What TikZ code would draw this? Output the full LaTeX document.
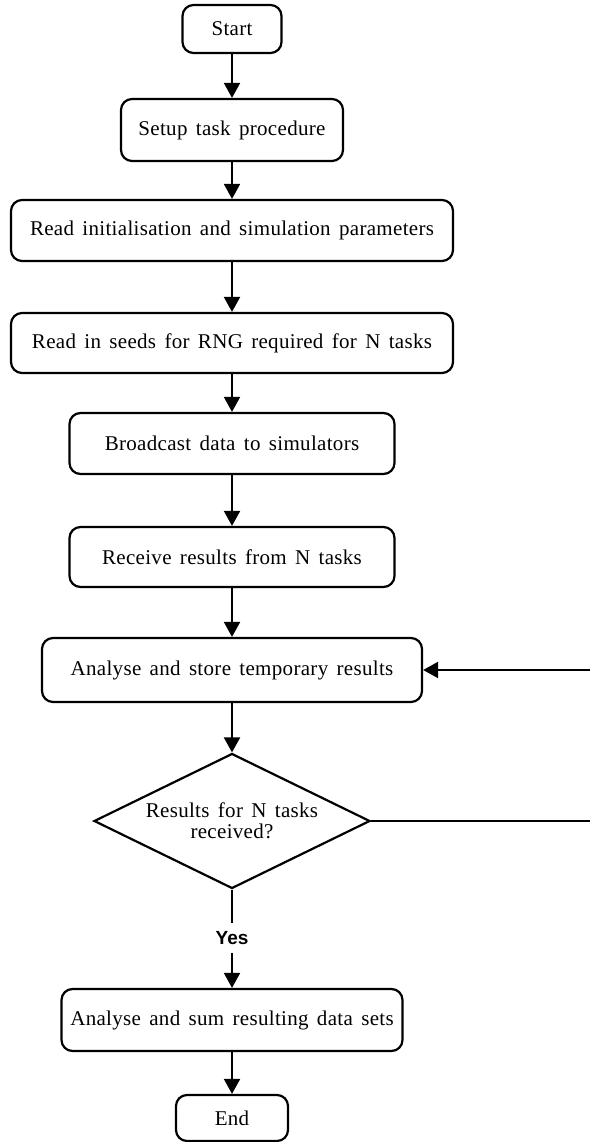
\documentclass[tikz,border=0pt]{standalone}
\usepackage{fontspec}
\setmainfont{Liberation Serif}[LetterSpace=1.5,WordSpace=1.5]
\newfontfamily\yesfont{Liberation Sans}
\usetikzlibrary{arrows.meta,shapes.geometric}
\begin{document}
\begin{tikzpicture}[x=1pt,y=-1pt,
  box/.style={draw,line width=2.2pt,rounded corners=11pt,inner sep=0pt,align=center,
    font=\fontsize{21}{22}\selectfont},
  decision/.style={draw,diamond,shape aspect=2.04,line width=2.2pt,inner sep=0pt,align=center,
    font=\fontsize{21}{21}\selectfont},
  yeslabel/.style={inner sep=0pt,minimum height=30pt,font=\yesfont\bfseries\fontsize{19}{20}\selectfont},
  arr/.style={line width=2pt,-{Triangle[length=15pt,width=16pt]}},
  ln/.style={line width=2pt}]
\fill[white] (0,0) rectangle (590,1142);
\useasboundingbox (0,0) rectangle (590,1142);
\node[box,minimum width=99pt,minimum height=48pt] (start) at (232,29) {Start};
\node[box,minimum width=222pt,minimum height=62pt] (setup) at (232,130) {Setup task procedure};
\node[box,minimum width=442pt,minimum height=61pt] (init) at (232,230.5) {Read initialisation and simulation parameters};
\node[box,minimum width=442pt,minimum height=60pt] (seeds) at (232,343) {Read in seeds for RNG required for N tasks};
\node[box,minimum width=325pt,minimum height=61pt] (bcast) at (232,443.5) {Broadcast data to simulators};
\node[box,minimum width=325pt,minimum height=60pt] (recv) at (232,557) {Receive results from N tasks};
\node[box,minimum width=380pt,minimum height=64pt] (store) at (232,670) {Analyse and store temporary results};
\node[decision,minimum width=276pt,minimum height=135pt] (dec) at (232,821) {Results for N tasks\\received?};
\node[yeslabel] (yes) at (232,938) {Yes};
\node[box,minimum width=341pt,minimum height=62pt] (sum) at (232,1020) {Analyse and sum resulting data sets};
\node[box,minimum width=112pt,minimum height=46pt] (end) at (232,1118) {End};
\coordinate (r1) at (590,821);
\coordinate (r2) at (590,670);
\draw[arr] (start) -- (setup);
\draw[arr] (setup) -- (init);
\draw[arr] (init) -- (seeds);
\draw[arr] (seeds) -- (bcast);
\draw[arr] (bcast) -- (recv);
\draw[arr] (recv) -- (store);
\draw[arr] (store) -- (dec);
\draw[ln] (dec) -- (yes);
\draw[arr] (yes) -- (sum);
\draw[arr] (sum) -- (end);
\draw[ln] (dec.east) -- (r1);
\draw[arr] (r2) -- (store.east);
\end{tikzpicture}
\end{document}
